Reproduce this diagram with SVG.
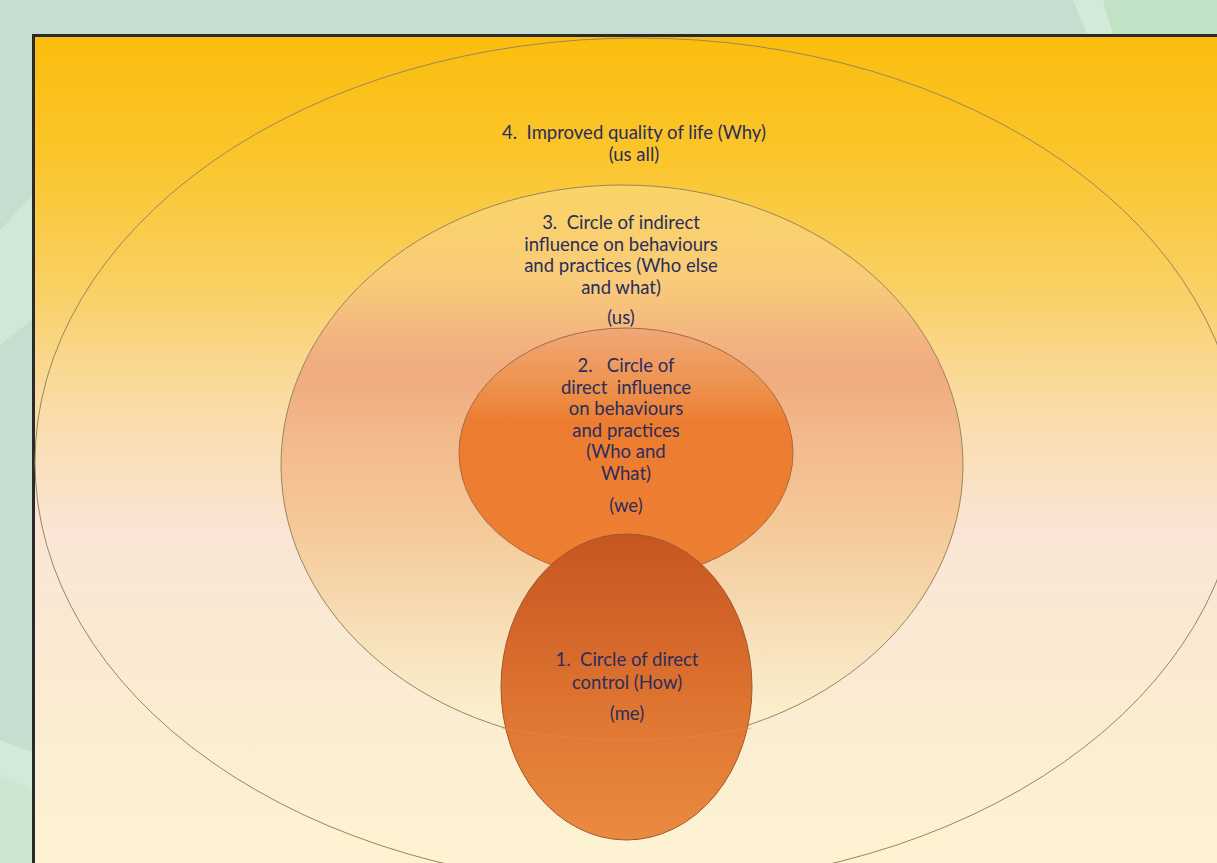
<svg xmlns="http://www.w3.org/2000/svg" width="1217" height="863" viewBox="0 0 1217 863">
<defs>
<style>
.lbl{font-family:Lato,"Open Sans","Liberation Sans",sans-serif;font-size:18.5px;fill:#2b2d5c;text-anchor:middle;white-space:pre}
.ring{fill:none;stroke:#9a8560;stroke-width:1}
</style>
<linearGradient id="bg" x1="0" y1="37" x2="0" y2="863" gradientUnits="userSpaceOnUse">
<stop offset="0" stop-color="#fbbe0e"/>
<stop offset="0.14" stop-color="#fbc52a"/>
<stop offset="0.3" stop-color="#f9d062"/>
<stop offset="0.45" stop-color="#fadca8"/>
<stop offset="0.6" stop-color="#fae5d6"/>
<stop offset="0.75" stop-color="#faead2"/>
<stop offset="1" stop-color="#fdf3d2"/>
</linearGradient>
<linearGradient id="g3" x1="0" y1="185" x2="0" y2="745" gradientUnits="userSpaceOnUse">
<stop offset="0" stop-color="#fbd466"/>
<stop offset="0.17" stop-color="#f8cc78"/>
<stop offset="0.29" stop-color="#f2b182"/>
<stop offset="0.34" stop-color="#f0ac7e"/>
<stop offset="0.45" stop-color="#f3b98c"/>
<stop offset="0.6" stop-color="#f5c898"/>
<stop offset="0.74" stop-color="#f6d8ae"/>
<stop offset="0.86" stop-color="#f8e6c2"/>
<stop offset="0.95" stop-color="#faefcc"/>
<stop offset="1" stop-color="#fbf3d2"/>
</linearGradient>
<linearGradient id="g2" x1="0" y1="328" x2="0" y2="578" gradientUnits="userSpaceOnUse">
<stop offset="0" stop-color="#f0a878"/>
<stop offset="0.22" stop-color="#ee9450"/>
<stop offset="0.38" stop-color="#ec7c30"/>
<stop offset="1" stop-color="#ed7f33"/>
</linearGradient>
<linearGradient id="g1" x1="0" y1="534" x2="0" y2="840" gradientUnits="userSpaceOnUse">
<stop offset="0" stop-color="#c65620"/>
<stop offset="0.3" stop-color="#d3652a"/>
<stop offset="0.55" stop-color="#de7430"/>
<stop offset="1" stop-color="#ea8a40"/>
</linearGradient>
</defs>

<g id="background">
<rect x="0" y="0" width="1217" height="863" fill="#c6ddcf"/>
<polygon points="1073,0 1103,0 1113,34 1087,34" fill="#d4ead8"/>
<polygon points="1103,0 1217,0 1217,34 1113,34" fill="#c2e2c6"/>
<polygon points="0,230 32,195 32,320 0,345" fill="#d0e8d6"/>
<polygon points="0,740 32,752 32,863 0,863" fill="#d2eada"/>
<polygon points="0,775 32,790 32,863 0,863" fill="#cce6d2"/>
</g>

<g id="frame">
<rect x="33.5" y="35.5" width="1200" height="840" fill="url(#bg)" stroke="#2a2a2a" stroke-width="3"/>
</g>

<g id="circle4">
<ellipse cx="638" cy="462" rx="603" ry="424" class="ring"/>
<text class="lbl" x="634" y="139">4.  Improved quality of life (Why)</text>
<text class="lbl" x="634" y="161">(us all)</text>
</g>

<g id="circle3">
<ellipse cx="622" cy="465" rx="341" ry="280" fill="url(#g3)" stroke="#9a8560" stroke-width="1"/>
<text class="lbl" x="621" y="229">3.  Circle of indirect</text>
<text class="lbl" x="621" y="251">influence on behaviours</text>
<text class="lbl" x="621" y="272">and practices (Who else</text>
<text class="lbl" x="621" y="294">and what)</text>
<text class="lbl" x="621" y="324">(us)</text>
</g>

<g id="circle2">
<ellipse cx="626" cy="453" rx="167" ry="125" fill="url(#g2)" stroke="#a86a40" stroke-width="1"/>
<text class="lbl" x="626" y="372">2.   Circle of</text>
<text class="lbl" x="626" y="394">direct  influence</text>
<text class="lbl" x="626" y="415">on behaviours</text>
<text class="lbl" x="626" y="437">and practices</text>
<text class="lbl" x="626" y="458">(Who and</text>
<text class="lbl" x="626" y="480">What)</text>
<text class="lbl" x="626" y="512">(we)</text>
</g>

<g id="circle1">
<ellipse cx="626.5" cy="687" rx="125.5" ry="153" fill="url(#g1)" stroke="#a0582c" stroke-width="1"/>
<path d="M502,728 Q626,752 751,728" fill="none" stroke="#e48a48" stroke-width="1" opacity="0.6"/>
<text class="lbl" x="627" y="666">1.  Circle of direct</text>
<text class="lbl" x="627" y="689">control (How)</text>
<text class="lbl" x="627" y="720">(me)</text>
</g>
</svg>
